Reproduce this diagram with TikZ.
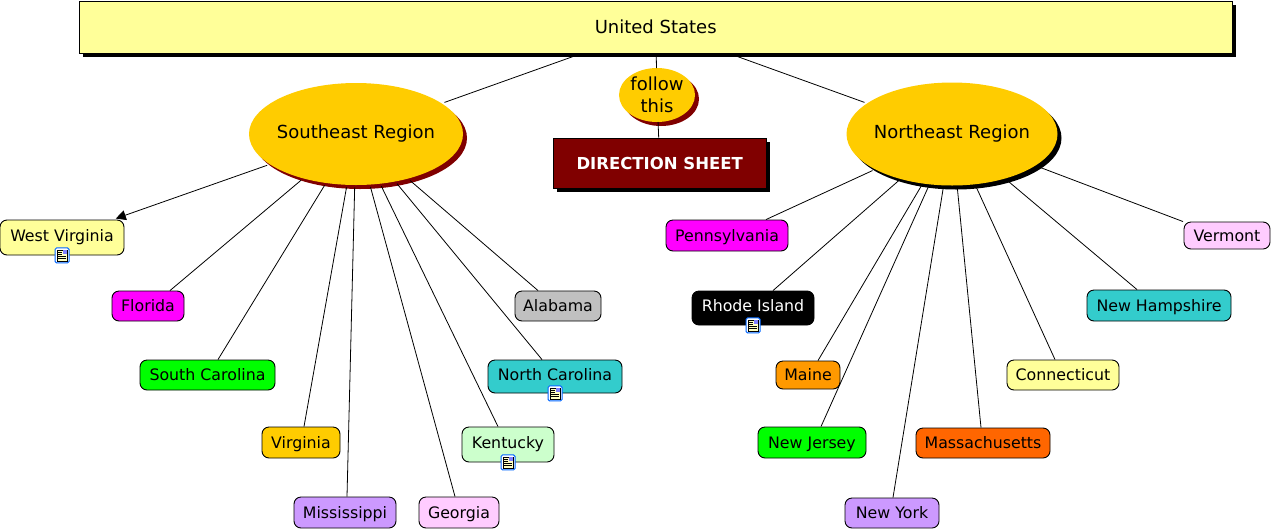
\documentclass[tikz,border=0pt]{standalone}
\usepackage{fontspec}
\setmainfont{DejaVu Sans}
\usetikzlibrary{arrows.meta,shadows,shapes.geometric}
\definecolor{paleyellow}{RGB}{255,255,153}
\definecolor{gold}{RGB}{255,204,0}
\definecolor{maroon}{RGB}{128,0,0}
\definecolor{fuchsia}{RGB}{255,0,255}
\definecolor{lime}{RGB}{0,255,0}
\definecolor{lilac}{RGB}{204,153,255}
\definecolor{pink}{RGB}{255,204,255}
\definecolor{mint}{RGB}{204,255,204}
\definecolor{aqua}{RGB}{51,204,204}
\definecolor{silver}{RGB}{192,192,192}
\definecolor{amber}{RGB}{255,153,0}
\definecolor{burnt}{RGB}{255,102,0}
\tikzset{
    bigfont/.style={font=\fontsize{18}{22}\selectfont},
    leaffont/.style={font=\fontsize{15.8}{19}\selectfont},
    region/.style={ellipse,fill=gold,bigfont,inner sep=-10pt,outer sep=2.5pt,align=center},
    leaf/.style={draw=black,line width=0.9pt,rounded corners=7pt,leaffont,inner sep=0pt,
        text height=15pt,text depth=3.5pt,align=center},
    withicon/.style={text depth=7.5pt},
    darkshadow/.style={general shadow={shadow xshift=4pt,shadow yshift=-4pt,fill=#1}},
    link/.style={draw=black,line width=0.8pt},
    docicon/.pic={
        \draw[draw=blue!60!cyan,fill=white,rounded corners=1.5pt,line width=1pt] (-7,-7.5) rectangle (7,7.5);
        \draw[black,fill=paleyellow!60,line width=0.6pt] (-5,-5.5) rectangle (5,5.5);
        \fill[blue!50] (0.5,-5) rectangle (4.5,-1);
        \foreach \yy in {-3.5,-1.5,1,3} {
            \draw[black,line width=0.6pt] (-4,\yy) -- ({\yy>0?4:0},\yy);
        }
    }
}
\begin{document}
\begin{tikzpicture}[x=1pt,y=-1pt]
    \useasboundingbox (0,0) rectangle (1272,531);

    % top row
    \node[draw=black,line width=0.9pt,fill=paleyellow,bigfont,minimum width=1153.5pt,minimum height=52pt,inner sep=0pt,
        darkshadow=black] (us) at (655.7,27) {United States};
    \node[region,minimum width=76pt,minimum height=54pt,outer sep=0pt,darkshadow=maroon] (follow) at (657,95) {follow\\this};
    \node[draw=black,line width=0.9pt,fill=maroon,text=white,font=\fontsize{16.5}{20}\selectfont\bfseries,minimum width=213.5pt,
        minimum height=50pt,inner sep=0pt,darkshadow=black] (sheet) at (659.7,163) {DIRECTION SHEET};
    \node[region,minimum width=214pt,minimum height=102pt,darkshadow=maroon] (southeast) at (356,134) {Southeast Region};
    \node[region,minimum width=211pt,minimum height=103pt,darkshadow=black] (northeast) at (952,134) {Northeast Region};

    % states
    \foreach \nm/\cx/\cy/\w/\h/\col/\lbl in {
        florida/148/306/72/30/fuchsia/Florida,
        southcarolina/207.5/375/135/30/lime/South Carolina,
        virginia/301/442.5/78/31/gold/Virginia,
        mississippi/345/512.5/102/31/lilac/Mississippi,
        georgia/459/512.5/80/31/pink/Georgia,
        alabama/558/306/86/30/silver/Alabama,
        pennsylvania/727/235.5/122/31/fuchsia/Pennsylvania,
        maine/808/375/64/28/amber/Maine,
        newjersey/812/442.5/108/31/lime/New Jersey,
        newyork/892/513/94/30/lilac/New York,
        massachusetts/983/443/134/30/burnt/Massachusetts,
        connecticut/1063/375/112/30/paleyellow/Connecticut,
        newhampshire/1159/305.5/144/31/aqua/New Hampshire,
        vermont/1227/235.5/86/27/pink/Vermont} {
        \node[leaf,fill=\col,minimum width=\w pt,minimum height=\h pt] (\nm) at (\cx,\cy) {\lbl};
    }

    % states with a document
    \node[leaf,withicon,fill=paleyellow,minimum width=124pt,minimum height=35pt] (westvirginia) at (62,237.5) {West Virginia};
    \node[leaf,withicon,fill=mint,minimum width=92pt,minimum height=35pt] (kentucky) at (508,444.5) {Kentucky};
    \node[leaf,withicon,fill=aqua,minimum width=134pt,minimum height=33pt] (northcarolina) at (555,376.5) {North Carolina};
    \node[leaf,withicon,fill=black,text=white,minimum width=122pt,minimum height=34pt] (rhodeisland) at (753,308) {Rhode Island};
    \foreach \st in {westvirginia,kentucky,northcarolina,rhodeisland} {
        \pic at (\st.south) {docicon};
    }

    % links
    \foreach \a/\b in {us/southeast,us/northeast,us/follow,follow/sheet} {
        \draw[link] (\a) -- (\b);
    }
    \foreach \b/\s in {florida/22,southcarolina/10.5,virginia/3,mississippi/2,georgia/-4,kentucky/-10,northcarolina/-13,alabama/-20} {
        \draw[link] (southeast) -- ([xshift=\s pt]\b.north);
    }
    \foreach \b/\s in {pennsylvania/39,rhodeisland/20,maine/10,newjersey/9,newyork/1,massachusetts/-2,connecticut/-8,newhampshire/-22,vermont/-44} {
        \draw[link] (northeast) -- ([xshift=\s pt]\b.north);
    }
    \draw[link,-{Triangle[length=10pt,width=10pt]},shorten >=3pt] (southeast) -- (westvirginia);
\end{tikzpicture}
\end{document}
